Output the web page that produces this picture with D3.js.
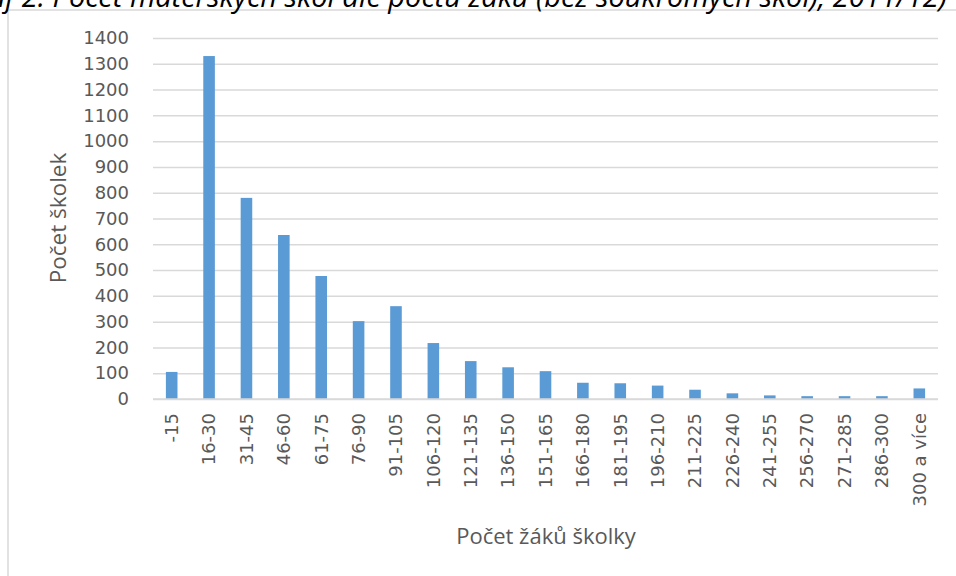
<!DOCTYPE html>
<html><head><meta charset="utf-8">
<script src="https://cdn.jsdelivr.net/npm/d3@7"></script>
<style>html,body{margin:0;padding:0;background:#fff;overflow:hidden}</style>
</head><body>
<script>
const categories = ["-15","16-30","31-45","46-60","61-75","76-90","91-105","106-120","121-135","136-150","151-165","166-180","181-195","196-210","211-225","226-240","241-255","256-270","271-285","286-300","300 a více"];
const values = [105,1330,780,636,477,302,360,217,147,123,108,63,61,52,36,22,14,11,11,11,41];
const yTicks = [0,100,200,300,400,500,600,700,800,900,1000,1100,1200,1300,1400];
const titleText = "Graf 2: Počet mateřských škol dle počtu žáků (bez soukromých škol), 2011/12)";
const yTitle = "Počet školek";
const xTitle = "Počet žáků školky";

(function () {
const W = 956, H = 576;
const svg = d3.select("body").append("svg").attr("width", W).attr("height", H);

svg.append("rect").attr("x", 8).attr("y", 10).attr("width", 1200).attr("height", 1200)
  .attr("fill", "none").attr("stroke", "#d9d9d9").attr("stroke-width", 1.5);

svg.append("text").attr("x", 947).attr("y", 7).attr("text-anchor", "end")
  .attr("font-family", "Open Sans").attr("font-style", "italic").attr("font-weight", 500)
  .attr("font-size", 29).attr("fill", "#000").text(titleText);

const pl = 153, pr = 938, pt = 38, pb = 399;
const x = d3.scaleBand().domain(categories).range([pl, pr]).paddingInner(0.69).paddingOuter(0.345);
const y = d3.scaleLinear().domain([0, 1400]).range([pb, pt]);

const g = svg.append("g").attr("transform", `translate(${pl},0)`);
g.call(d3.axisLeft(y).tickValues(yTicks).tickSize(-(pr - pl)).tickFormat(""))
  .call(s => s.select(".domain").remove())
  .call(s => s.selectAll(".tick line").attr("stroke", "#d9d9d9").attr("stroke-width", 1.5));

const gy = svg.append("g").attr("transform", `translate(${pl},0)`);
gy.call(d3.axisLeft(y).tickValues(yTicks).tickSize(0).tickPadding(24).tickFormat(d3.format("d")))
  .call(s => s.select(".domain").remove())
  .call(s => s.selectAll("text").attr("font-family", "DejaVu Sans").attr("font-size", 18).attr("fill", "#595959"));

svg.append("g").selectAll("rect").data(values).join("rect")
  .attr("x", (d, i) => x(categories[i]))
  .attr("width", x.bandwidth())
  .attr("y", d => y(d))
  .attr("height", d => y(0) - y(d))
  .attr("fill", "#5b9bd5");

const gx = svg.append("g").attr("transform", `translate(0,${pb})`);
gx.call(d3.axisBottom(x).tickSize(0).tickPadding(0))
  .call(s => s.select(".domain").attr("stroke", "#d9d9d9").attr("stroke-width", 1.5).attr("d", `M${pl},0H${pr}`))
  .call(s => s.selectAll("text")
    .attr("font-family", "DejaVu Sans").attr("font-size", 18).attr("fill", "#595959")
    .attr("transform", "rotate(-90)").attr("text-anchor", "end")
    .attr("x", -14).attr("y", 0).attr("dy", "0.35em"));

svg.append("text").attr("transform", "translate(66,218) rotate(-90)").attr("text-anchor", "middle")
  .attr("font-family", "Open Sans").attr("font-size", 22.5).attr("fill", "#595959").text(yTitle);
svg.append("text").attr("x", 546).attr("y", 544).attr("text-anchor", "middle")
  .attr("font-family", "Open Sans").attr("font-size", 22).attr("fill", "#595959").text(xTitle);
})();
</script>
</body></html>
